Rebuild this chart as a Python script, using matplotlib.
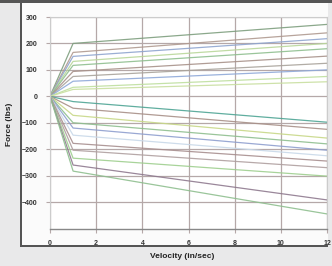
from matplotlib import pyplot as plt
from matplotlib.patches import Rectangle
import matplotlib

matplotlib.rc("font", family="Liberation Sans", weight="bold")

# data: force at 1 in/sec and at 12 in/sec for each valving curve
velocity = [0, 1, 12]
pos_f1 = [200, 166, 151, 132, 117, 94, 75, 57, 34, 26]
pos_f12 = [272, 240, 218, 200, 180, 152, 125, 100, 75, 55]
neg_f1 = [-20, -45, -72, -100, -120, -147, -178, -204, -234, -260, -283]
neg_f12 = [-98, -125, -158, -180, -204, -225, -245, -270, -302, -392, -445]

pos_colors = ["#7f9f7f", "#b09a90", "#8fa5cf", "#b9d79a", "#8fbf8f",
              "#a8928a", "#a9a39b", "#8fa9d9", "#bfdf9f", "#c9dfa0"]
neg_colors = ["#4fa595", "#a89088", "#c8d888", "#8fbf8f", "#8f9fcf",
              "#c9d9e9", "#a88f8f", "#b0a0a0", "#9fcf8f", "#8f7a8f", "#8fbf8f"]

xticks = [0, 2, 4, 6, 8, 10, 12]
yticks = [-400, -300, -200, -100, 0, 100, 200, 300]

fig = plt.figure(figsize=(3.32, 2.66), dpi=100)
fig.patch.set_facecolor("#e9e9ea")

# white panel with dark left / bottom edges
fig.patches.append(Rectangle((20 / 332, 1 - 247 / 266), 308 / 332, 244 / 266,
                             transform=fig.transFigure, facecolor="#555555",
                             edgecolor="none", zorder=-2))
fig.patches.append(Rectangle((22 / 332, 1 - 245 / 266), 306 / 332, 242 / 266,
                             transform=fig.transFigure, facecolor="#fbfbfb",
                             edgecolor="none", zorder=-1))
fig.patches.append(Rectangle((0, 1 - 2.5 / 266), 1, 2.5 / 266,
                             transform=fig.transFigure, facecolor="#555555",
                             edgecolor="none", zorder=-1))

ax = fig.add_axes([50 / 332, 1 - 229 / 266, 277 / 332, 212 / 266])
ax.set_zorder(2)
ax.set_facecolor("white")

for f1, f12, c in zip(pos_f1, pos_f12, pos_colors):
    ax.plot(velocity, [0, f1, f12], color=c, lw=0.9, alpha=0.9)
for f1, f12, c in zip(neg_f1, neg_f12, neg_colors):
    ax.plot(velocity, [0, f1, f12], color=c, lw=0.9, alpha=0.9)

ax.set_xlim(0, 12)
ax.set_ylim(-502, 298)
ax.set_xticks(xticks)
ax.set_yticks(yticks)
ax.grid(color="#b5a8a8", lw=0.9)
ax.set_axisbelow(True)
ax.tick_params(axis="both", length=3, color="#b5a8a8", labelsize=5,
               labelcolor="#333333")
ax.tick_params(axis="y", pad=6)
ax.tick_params(axis="x", pad=5)
for s in ["top", "right", "left"]:
    ax.spines[s].set_color("#cccccc")
    ax.spines[s].set_linewidth(0.8)
ax.spines["bottom"].set_color("#888888")
ax.spines["bottom"].set_linewidth(1.0)

fig.text(182 / 332, 1 - 256 / 266, "Velocity (in/sec)", ha="center",
         va="center", fontsize=6, color="#222222")
fig.text(10 / 332, 1 - 124 / 266, "Force (lbs)", ha="center", va="center",
         rotation=90, fontsize=6, color="#222222")

plt.savefig("out.png")
